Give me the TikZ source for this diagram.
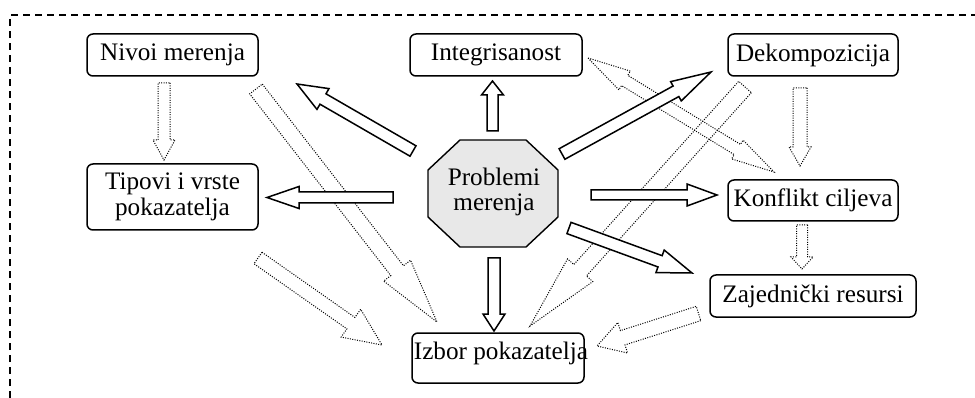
\documentclass[tikz,border=0pt]{standalone}
\usepackage{fontspec}
\setmainfont{Liberation Serif}
\usetikzlibrary{calc}
\newcommand{\blockarrow}[6][]{%
  \draw[#1] ($(#2)!#4!90:(#3)$)
    -- ($(#3)!#6!(#2)!#4!-90:(#2)$)
    -- ($(#3)!#6!(#2)!#5!-90:(#2)$)
    -- (#3)
    -- ($(#3)!#6!(#2)!#5!90:(#2)$)
    -- ($(#3)!#6!(#2)!#4!90:(#2)$)
    -- ($(#2)!#4!-90:(#3)$) -- cycle;}
\newcommand{\dblblockarrow}[6][]{%
  \draw[#1] (#2)
    -- ($(#2)!#6!(#3)!#5!90:(#3)$)
    -- ($(#2)!#6!(#3)!#4!90:(#3)$)
    -- ($(#3)!#6!(#2)!#4!-90:(#2)$)
    -- ($(#3)!#6!(#2)!#5!-90:(#2)$)
    -- (#3)
    -- ($(#3)!#6!(#2)!#5!90:(#2)$)
    -- ($(#3)!#6!(#2)!#4!90:(#2)$)
    -- ($(#2)!#6!(#3)!#4!-90:(#3)$)
    -- ($(#2)!#6!(#3)!#5!-90:(#3)$) -- cycle;}
\tikzset{
  txt/.style={font=\fontsize{25.2}{26}\selectfont, align=center, inner sep=0pt},
  box/.style={txt, draw, rounded corners=6pt, line width=1.5pt, minimum height=42pt},
  solidarrow/.style={draw, fill=white, line width=1.5pt, line join=miter},
  dotarrow/.style={draw, line width=1pt, dash pattern=on 1pt off 1.4pt},
  frameline/.style={line width=1.1pt, dash pattern=on 7pt off 5pt},
  octo/.style={draw, fill=black!9, line width=1.4pt}
}
\begin{document}
\begin{tikzpicture}[x=1pt,y=-1pt]
\useasboundingbox (0,0) rectangle (975,398);
% frame
\coordinate (fBL) at (10,398);
\coordinate (fTL) at (10,15);
\coordinate (fTR) at (975,15);
\draw[frameline] (fBL) -- (fTL) -- (fTR);

% boxes
\node[box, minimum width=171pt] (nivoi) at (172.5,55) {Nivoi merenja};
\node[box, minimum width=172pt] (integ) at (496,55) {Integrisanost};
\node[box, minimum width=170pt] (dekomp) at (813,55) {Dekompozicija};
\node[box, minimum width=171pt, minimum height=66pt] (tipovi) at (172.5,197) {Tipovi i vrste\\pokazatelja};
\node[box, minimum width=170pt, minimum height=41pt] (konflikt) at (813,200.5) {Konflikt ciljeva};
\node[box, minimum width=206pt] (zajed) at (813,296) {Zajednički resursi};
\node[box, minimum width=172pt, minimum height=50pt] (izbor) at (498,358) {};
\node[txt] (izbortxt) at (501,353) {Izbor pokazatelja};

% octagon
\node[txt, minimum width=130pt, minimum height=107pt] (prob) at (493,193.5) {};
\draw[octo] ([shift={(-33,-53.5)}]prob.center) -- ([shift={(33,-53.5)}]prob.center)
  -- ([shift={(65,-23.5)}]prob.center) -- ([shift={(65,23.5)}]prob.center)
  -- ([shift={(33,53.5)}]prob.center) -- ([shift={(-33,53.5)}]prob.center)
  -- ([shift={(-65,23.5)}]prob.center) -- ([shift={(-65,-23.5)}]prob.center) -- cycle;
\node[txt, font=\fontsize{25.2}{25}\selectfont] (probtxt) at (494,192) {Problemi\\merenja};

% solid arrow end points
\coordinate (s1a) at (492.5,131); \coordinate (s1b) at (492.5,81);
\coordinate (s2a) at (413,151);   \coordinate (s2b) at (297,84);
\coordinate (s3a) at (393,197.5); \coordinate (s3b) at (267,197.5);
\coordinate (s4a) at (562,154);   \coordinate (s4b) at (711,72);
\coordinate (s5a) at (591,195);   \coordinate (s5b) at (717,195);
\coordinate (s6a) at (569,228);   \coordinate (s6b) at (692,273);
\coordinate (s7a) at (494,258);   \coordinate (s7b) at (494,331);

% dotted arrow end points
\coordinate (d1a) at (164,83);    \coordinate (d1b) at (164,160);
\coordinate (d2a) at (256,89);    \coordinate (d2b) at (437,322);
\coordinate (d3a) at (258,258);   \coordinate (d3b) at (382,345);
\coordinate (d4a) at (588,58);    \coordinate (d4b) at (774,172);
\coordinate (d5a) at (745,87);    \coordinate (d5b) at (530,326);
\coordinate (d6a) at (800,88);    \coordinate (d6b) at (800,166);
\coordinate (d7a) at (802,225);   \coordinate (d7b) at (802,269);
\coordinate (d8a) at (698.5,313.5); \coordinate (d8b) at (597,346);

% dotted arrows
\blockarrow[dotarrow]{d1a}{d1b}{6pt}{11pt}{20pt}
\blockarrow[dotarrow]{d2a}{d2b}{8pt}{17pt}{65pt}
\blockarrow[dotarrow]{d3a}{d3b}{7pt}{17pt}{38pt}
\dblblockarrow[dotarrow]{d4a}{d4b}{6pt}{11pt}{43pt}
\blockarrow[dotarrow]{d5a}{d5b}{8.5pt}{17pt}{75pt}
\blockarrow[dotarrow]{d6a}{d6b}{7pt}{11pt}{19pt}
\blockarrow[dotarrow]{d7a}{d7b}{5.5pt}{11pt}{12pt}
\blockarrow[dotarrow]{d8a}{d8b}{7.5pt}{16pt}{27pt}

% solid arrows
\blockarrow[solidarrow]{s1a}{s1b}{5.5pt}{11pt}{14pt}
\blockarrow[solidarrow]{s2a}{s2b}{6pt}{12pt}{30pt}
\blockarrow[solidarrow]{s3a}{s3b}{5.5pt}{11pt}{32pt}
\blockarrow[solidarrow]{s4a}{s4b}{6pt}{11pt}{40pt}
\blockarrow[solidarrow]{s5a}{s5b}{5pt}{11pt}{30pt}
\blockarrow[solidarrow]{s6a}{s6b}{6pt}{12pt}{34pt}
\blockarrow[solidarrow]{s7a}{s7b}{6pt}{11pt}{17pt}
\end{tikzpicture}
\end{document}
